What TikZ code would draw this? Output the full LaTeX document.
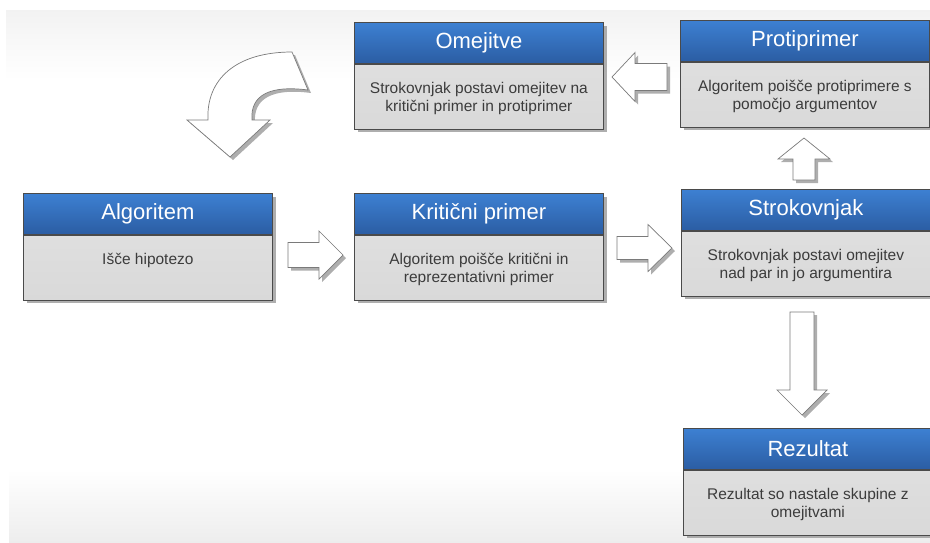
\documentclass[tikz,border=0pt]{standalone}
\usepackage{fontspec}
\setmainfont{Liberation Sans}
\definecolor{barTop}{HTML}{3D80D2}
\definecolor{barBot}{HTML}{2B5DA3}
\definecolor{bodyFill}{HTML}{D9D9D9}
\definecolor{edge}{HTML}{4A4A4A}
\definecolor{txt}{HTML}{3C3C3C}
\definecolor{shad}{HTML}{A0A0A0}
\definecolor{arrEdge}{HTML}{7A7A7A}
\newcommand\PBox[5]{%
 \fill[boxshadow] (#2+4,-#3-4) rectangle (#2+253,-#3-110);
 \node[titlebar, anchor=north west] (#1-title) at (#2,-#3) {#4};
 \node[bodybox, anchor=north] (#1) at (#1-title.south) {};
 \node[bodytext, anchor=north] (#1-text) at ([yshift=-18pt]#1.north) {#5};
}
\newcommand\BArrow[7]{%
 \fill[arrowshadow, shift={(#1+3,-#2-3)}, rotate=#3] (0,-#5) -- (#4-#7,-#5) -- (#4-#7,-#6) -- (#4,0) -- (#4-#7,#6) -- (#4-#7,#5) -- (0,#5) -- cycle;
 \draw[arrowshape, shift={(#1,-#2)}, rotate=#3] (0,-#5) -- (#4-#7,-#5) -- (#4-#7,-#6) -- (#4,0) -- (#4-#7,#6) -- (#4-#7,#5) -- (0,#5) -- cycle;
}
\begin{document}
\begin{tikzpicture}[x=1pt,y=1pt,
 titlebar/.style={draw=edge, line width=0.8pt, top color=barTop, bottom color=barBot, minimum width=249pt, minimum height=41pt, inner sep=0pt, text=white, font=\fontsize{22}{26}\selectfont},
 bodybox/.style={draw=edge, line width=0.8pt, top color=bodyFill!85!white, bottom color=bodyFill, minimum width=249pt, minimum height=65pt, inner sep=0pt},
 bodytext/.style={text=txt, font=\fontsize{15.5}{18.5}\selectfont, align=center, inner sep=0pt},
 boxshadow/.style={fill=shad, opacity=0.85},
 arrowshape/.style={fill=white, draw=arrEdge, line width=0.7pt, line join=miter},
 arrowshadow/.style={fill=shad, opacity=0.85}]
\useasboundingbox (0,0) rectangle (930,-542);
\shade[top color=black!5, bottom color=white] (6,-10) rectangle (930,-80);
\shade[top color=white, bottom color=black!7] (9,-469) rectangle (930,-542);

\PBox{omej}{354}{22}{Omejitve}{Strokovnjak postavi omejitev na\\kritični primer in protiprimer}
\PBox{proti}{680}{20}{Protiprimer}{Algoritem poišče protiprimere s\\pomočjo argumentov}
\PBox{alg}{23}{193}{Algoritem}{Išče hipotezo}
\PBox{krit}{354}{193}{Kritični primer}{Algoritem poišče kritični in\\reprezentativni primer}
\PBox{strok}{681}{189}{Strokovnjak}{Strokovnjak postavi omejitev\\nad par in jo argumentira}
\PBox{rez}{683}{428}{Rezultat}{Rezultat so nastale skupine z\\omejitvami}

\BArrow{667}{77}{180}{55}{13.5}{24.5}{23}
\BArrow{288}{255}{0}{55}{12.5}{24}{24}
\BArrow{617}{248}{0}{55}{11.5}{23.5}{24}
\BArrow{804}{180}{90}{42}{11}{26}{21}
\BArrow{802}{312}{-90}{103}{12}{25}{25}

\fill[arrowshadow, shift={(3,-3)}] (187,-120) -- (208,-120) .. controls (206,-80) and (235,-52) .. (292,-52) -- (308,-90) .. controls (270,-85) and (250,-95) .. (252,-120) -- (270,-120) -- (230,-157) -- cycle;
\draw[arrowshape] (187,-120) -- (208,-120) .. controls (206,-80) and (235,-52) .. (292,-52) -- (308,-90) .. controls (270,-85) and (250,-95) .. (252,-120) -- (270,-120) -- (230,-157) -- cycle;
\end{tikzpicture}
\end{document}
